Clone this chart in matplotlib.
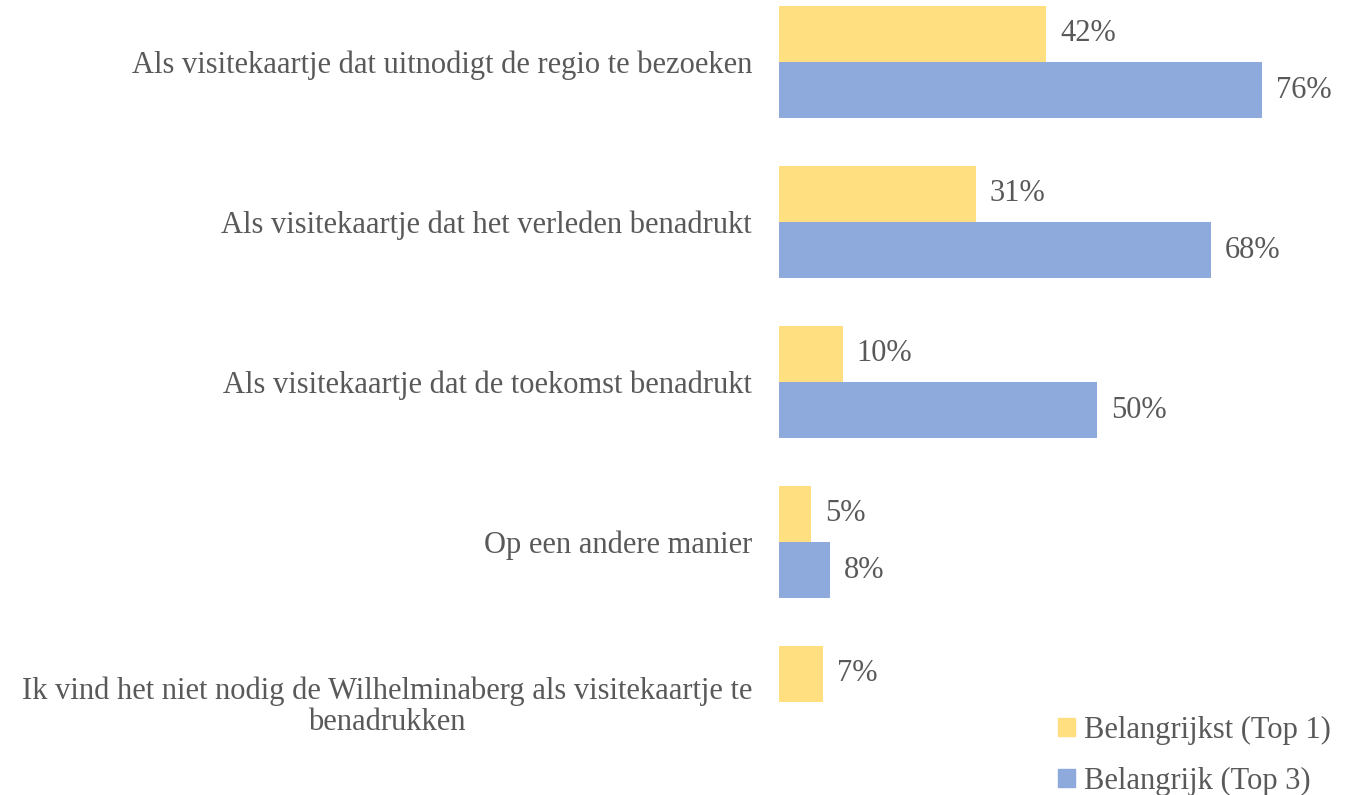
import numpy as np
import matplotlib.pyplot as plt
from matplotlib.patches import Patch

categories = [
    'Als visitekaartje dat uitnodigt de regio te bezoeken',
    'Als visitekaartje dat het verleden benadrukt',
    'Als visitekaartje dat de toekomst benadrukt',
    'Op een andere manier',
    'Ik vind het niet nodig de Wilhelminaberg als visitekaartje te\nbenadrukken',
]
top1 = [42, 31, 10, 5, 7]
top3 = [76, 68, 50, 8, np.nan]
series_names = ['Belangrijkst (Top 1)', 'Belangrijk (Top 3)']

YELLOW = '#FFDF80'
BLUE = '#8EA9DB'
TEXT = '#595959'
FONT = 'Liberation Serif'
FS = 22

fig = plt.figure(figsize=(13.6, 7.95), dpi=100)
ax = fig.add_axes([779 / 1360, 0, 561 / 1360, 1])

y = np.arange(len(categories))
h = 0.353
ax.barh(y - h / 2, top1, height=h, color=YELLOW)
ax.barh(y + h / 2, np.nan_to_num(top3), height=h, color=BLUE)

for i in range(len(categories)):
    ax.text(top1[i] + 2.2, y[i] - h / 2, f'{top1[i]}%', va='center', ha='left',
            fontsize=FS, color=TEXT, family=FONT)
    if not np.isnan(top3[i]):
        ax.text(top3[i] + 2.2, y[i] + h / 2, f'{top3[i]:.0f}%', va='center', ha='left',
                fontsize=FS, color=TEXT, family=FONT)

ax.set_xlim(0, 561 / 6.355)
ax.set_ylim((795 - 62) / 160, -62 / 160)
ax.set_yticks(y)
ax.set_yticklabels(categories, fontsize=FS, color=TEXT, family=FONT,
                   multialignment='center', linespacing=1.12)
ax.tick_params(axis='y', length=0, pad=19.5)
ax.set_xticks([])
for s in ax.spines.values():
    s.set_visible(False)

handles = [Patch(color=YELLOW), Patch(color=BLUE)]
fig.legend(handles, series_names, loc='upper left', bbox_to_anchor=(1058 / 1360, 1 - 716 / 795),
           frameon=False, prop={'family': FONT, 'size': FS}, labelcolor=TEXT, borderpad=0,
           borderaxespad=0, handlelength=0.55, handleheight=0.55, handletextpad=0.3,
           labelspacing=0.7)

fig.savefig('out.png', dpi=100)
